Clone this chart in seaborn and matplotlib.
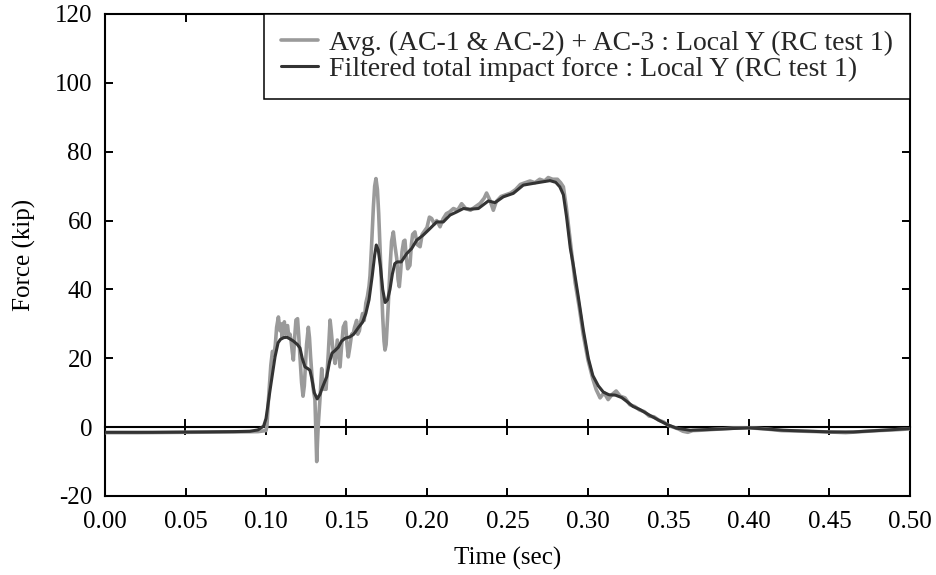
import numpy as np
import pandas as pd
import matplotlib
matplotlib.use("Agg")
import matplotlib.pyplot as plt
import seaborn as sns

# ---------------- data ----------------
raw_label = "Avg. (AC-1 & AC-2) + AC-3 : Local Y (RC test 1)"
filt_label = "Filtered total impact force : Local Y (RC test 1)"

raw_t = [0.000, 0.020, 0.050, 0.080, 0.095, 0.1000, 0.1006, 0.1015, 0.1030, 0.1040,
         0.1050, 0.1058, 0.1066, 0.1077, 0.1087, 0.1094, 0.1100, 0.1107, 0.1114, 0.1120,
         0.1127, 0.1134, 0.1142, 0.1149, 0.1156, 0.1163, 0.1170, 0.1178, 0.1186, 0.1196,
         0.1204, 0.1211, 0.1221, 0.1230, 0.1238, 0.1245, 0.1252, 0.1263, 0.1270, 0.1277,
         0.1287, 0.1294, 0.1304, 0.1310, 0.1315, 0.1320, 0.1325, 0.1335, 0.1346, 0.1352,
         0.1360, 0.1373, 0.1380, 0.1387, 0.1398, 0.1405, 0.1412, 0.1420, 0.1429, 0.1436,
         0.1443, 0.1450, 0.1460, 0.1470, 0.1480, 0.1494, 0.1503, 0.1511, 0.1520, 0.1532,
         0.1542, 0.1550, 0.1563, 0.1570, 0.1580, 0.1590, 0.1600, 0.1610, 0.1620, 0.1630,
         0.1640, 0.1646, 0.1655, 0.1667, 0.1675, 0.1683, 0.1692, 0.1700, 0.1710, 0.1718,
         0.1725, 0.1733, 0.1739, 0.1746, 0.1752, 0.1760, 0.1770, 0.1780, 0.1791, 0.1800,
         0.1812, 0.1820, 0.1828, 0.1836, 0.1845, 0.1855, 0.1863, 0.1870, 0.1880, 0.1894,
         0.1903, 0.1911, 0.1925, 0.1940, 0.1957, 0.1970, 0.1985, 0.2000, 0.2015, 0.2029,
         0.2045, 0.2060, 0.2081, 0.2100, 0.2120, 0.2140, 0.2164, 0.2190, 0.2215, 0.2240,
         0.2270, 0.2300, 0.2330, 0.2355, 0.2370, 0.2390, 0.2412, 0.2430, 0.2460, 0.2490,
         0.2520, 0.2550, 0.2580, 0.2610, 0.2640, 0.2670, 0.2700, 0.2730, 0.2753, 0.2780,
         0.2810, 0.2830, 0.2847, 0.2865, 0.2880, 0.2900, 0.2920, 0.2945, 0.2970, 0.3000,
         0.3030, 0.3050, 0.3075, 0.3100, 0.3125, 0.3150, 0.3175, 0.3200, 0.3230, 0.3260,
         0.3290, 0.3320, 0.3350, 0.3380, 0.3410, 0.3440, 0.3470, 0.3500, 0.3530, 0.3560,
         0.3590, 0.3620, 0.3650, 0.3700, 0.3800, 0.3900, 0.4000, 0.4100, 0.4200, 0.4350,
         0.4500, 0.4600, 0.4700, 0.4800, 0.4900, 0.5000]
raw_f = [-1.6, -1.6, -1.5, -1.4, -1.3, -1.0, 0.5, 7.8, 18.0, 22.0,
         21.0, 24.0, 29.0, 32.0, 28.0, 30.0, 26.0, 29.5, 30.6, 27.0,
         29.0, 29.5, 26.0, 27.0, 25.0, 22.0, 19.5, 26.0, 31.1, 31.5,
         26.0, 20.4, 13.0, 9.0, 12.0, 18.0, 24.0, 29.0, 26.0, 20.4,
         14.0, 11.0, 8.0, -2.0, -10.0, -4.0, 1.0, 8.0, 17.0, 14.0,
         11.0, 11.0, 16.0, 21.4, 31.1, 28.0, 24.3, 21.0, 18.5, 22.0,
         25.3, 22.0, 17.5, 24.0, 29.1, 30.5, 24.0, 20.4, 23.0, 27.0,
         27.2, 29.0, 31.0, 27.0, 28.0, 31.0, 33.0, 31.0, 36.0, 38.0,
         41.0, 44.0, 52.0, 64.0, 70.0, 72.2, 69.0, 62.0, 50.0, 40.0,
         32.0, 25.0, 22.4, 24.0, 29.0, 36.0, 46.0, 54.0, 56.7, 53.0,
         49.0, 43.0, 40.8, 45.0, 51.0, 54.0, 54.3, 50.0, 46.0, 47.0,
         53.0, 56.0, 56.7, 53.0, 52.4, 56.0, 57.0, 58.0, 61.0, 60.6,
         59.0, 60.0, 58.2, 60.5, 62.0, 62.5, 63.5, 63.0, 64.9, 63.5,
         63.0, 64.0, 65.0, 66.5, 68.0, 66.0, 63.0, 65.5, 67.0, 67.5,
         68.0, 69.0, 70.5, 71.0, 71.5, 71.0, 72.0, 71.5, 72.5, 72.0,
         72.0, 71.0, 69.8, 64.0, 58.0, 50.0, 42.0, 35.0, 27.0, 19.5,
         14.0, 11.0, 8.5, 10.0, 8.0, 9.5, 10.5, 9.0, 8.5, 6.5,
         6.0, 5.0, 4.5, 3.2, 3.0, 2.0, 1.5, 0.5, 0.0, -0.5,
         -1.2, -1.5, -1.0, -0.9, -0.6, -0.3, -0.2, -0.5, -1.0, -1.2,
         -1.4, -1.6, -1.3, -1.0, -0.8, -0.5]

filt_t = [0.000, 0.030, 0.060, 0.080, 0.090, 0.095, 0.0985, 0.1000, 0.1025, 0.1056,
          0.1075, 0.1090, 0.1110, 0.1130, 0.1150, 0.1170, 0.1195, 0.1211, 0.1225, 0.1242,
          0.1260, 0.1273, 0.1285, 0.1300, 0.1318, 0.1335, 0.1350, 0.1377, 0.1395, 0.1410,
          0.1430, 0.1449, 0.1470, 0.1491, 0.1520, 0.1545, 0.1575, 0.1600, 0.1620, 0.1640,
          0.1660, 0.1675, 0.1685, 0.1697, 0.1710, 0.1725, 0.1740, 0.1755, 0.1770, 0.1785,
          0.1800, 0.1815, 0.1840, 0.1874, 0.1905, 0.1936, 0.1977, 0.2019, 0.2060, 0.2101,
          0.2143, 0.2184, 0.2226, 0.2267, 0.2319, 0.2381, 0.2422, 0.2474, 0.2536, 0.2598,
          0.2660, 0.2712, 0.2764, 0.2800, 0.2825, 0.2847, 0.2867, 0.2890, 0.2909, 0.2940,
          0.2971, 0.3002, 0.3030, 0.3064, 0.3095, 0.3130, 0.3170, 0.3209, 0.3240, 0.3280,
          0.3323, 0.3385, 0.3440, 0.3489, 0.3550, 0.3634, 0.3800, 0.4000, 0.4213, 0.4503,
          0.4648, 0.4834, 0.5000]
filt_f = [-1.5, -1.5, -1.4, -1.3, -1.2, -0.8, 0.3, 2.5, 10.7, 20.4,
          24.5, 25.5, 26.0, 26.1, 25.6, 25.0, 24.0, 23.0, 20.0, 17.5,
          17.0, 16.5, 14.0, 10.0, 8.2, 9.5, 11.5, 14.6, 19.0, 21.5,
          22.3, 23.2, 25.0, 25.8, 26.2, 27.0, 29.0, 30.5, 33.0, 37.0,
          44.0, 50.0, 52.9, 51.5, 47.0, 40.0, 36.2, 37.0, 40.0, 44.5,
          47.5, 48.0, 48.0, 50.4, 51.9, 54.3, 55.8, 57.7, 59.6, 59.6,
          61.6, 62.5, 63.5, 63.3, 63.5, 65.7, 65.2, 66.9, 67.9, 70.3,
          70.8, 71.2, 71.6, 71.1, 69.8, 67.5, 61.0, 52.0, 47.0, 37.8,
          28.2, 20.0, 15.0, 12.0, 10.2, 9.4, 9.3, 8.6, 7.5, 6.0,
          5.1, 3.4, 2.0, 0.8, -0.3, -0.9, -0.6, -0.2, -0.9, -1.4,
          -1.4, -0.9, -0.4]

x_ticks = [0.00, 0.05, 0.10, 0.15, 0.20, 0.25, 0.30, 0.35, 0.40, 0.45, 0.50]
y_ticks = [-20, 0, 20, 40, 60, 80, 100, 120]
y_min, y_max = -20, 120

# ---------------- styling ----------------
sns.set_theme(style="ticks")
plt.rcParams["font.family"] = ["Liberation Serif", "DejaVu Serif"]

FS = 18
fig = plt.figure(figsize=(9.37, 5.75), dpi=100)
ax = fig.add_axes([105 / 937, 1 - 496 / 575, 805 / 937, 482 / 575])

raw_df = pd.DataFrame({"t": raw_t, "f": raw_f})
filt_df = pd.DataFrame({"t": filt_t, "f": filt_f})

sns.lineplot(data=raw_df, x="t", y="f", ax=ax, color="#9a9a9a", linewidth=2.6,
             sort=False, estimator=None, label=raw_label, zorder=3)
sns.lineplot(data=filt_df, x="t", y="f", ax=ax, color="#333333", linewidth=2.2,
             sort=False, estimator=None, label=filt_label, zorder=4)

ax.set_xlim(0, 0.5)
ax.set_ylim(y_min, y_max)
ax.set_xticks(x_ticks)
ax.set_xticklabels([f"{v:.2f}" for v in x_ticks])
ax.set_yticks(y_ticks)
ax.set_yticklabels([str(v) for v in y_ticks])
ax.tick_params(direction="in", length=6, width=1.4, top=True, right=True,
               labelsize=FS, colors="black")
ax.tick_params(axis="x", pad=11)
ax.tick_params(axis="y", pad=9)
for s in ax.spines.values():
    s.set_linewidth(1.5)
    s.set_color("black")
    s.set_visible(True)

ax.set_xlabel("Time (sec)", fontsize=FS, color="black", labelpad=10)
ax.set_ylabel("Force (kip)", fontsize=FS, color="black", labelpad=14)

# zero line with crossing ticks (secondary x axis placed at y = 0)
zero_frac = (0 - y_min) / (y_max - y_min)
sec = ax.secondary_xaxis(zero_frac)
sec.set_xticks(x_ticks[1:-1])
sec.tick_params(axis="x", direction="inout", length=12, width=1.4,
                labelbottom=False, colors="black")
sec.spines["bottom"].set_linewidth(1.5)
sec.spines["bottom"].set_color("black")

leg = ax.legend(loc="upper right", borderaxespad=0, fontsize=20, frameon=True,
                fancybox=False, handlelength=1.35, handletextpad=0.4,
                borderpad=0.6, labelspacing=0.02)
leg.get_frame().set_edgecolor("black")
leg.get_frame().set_linewidth(1.1)
leg.get_frame().set_alpha(1)
leg.set_zorder(6)

fig.savefig("out.png", dpi=100)
